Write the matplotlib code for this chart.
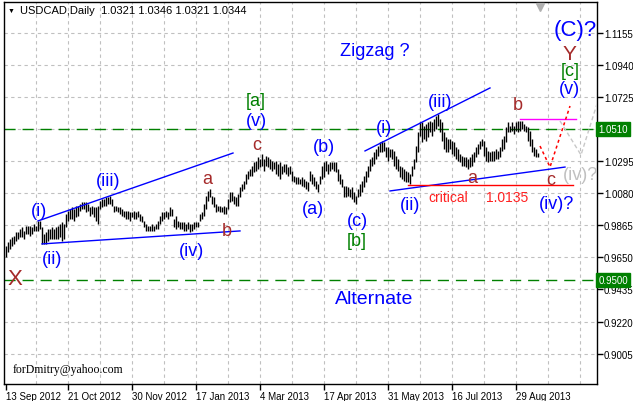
import numpy as np
import matplotlib
matplotlib.use("Agg")
import matplotlib.pyplot as plt

plt.rcParams['font.family'] = ['Liberation Sans', 'DejaVu Sans']

# daily bars USDCAD (high / low)
highs = [
    0.9726, 0.9753, 0.9773, 0.9786, 0.9793, 0.9820, 0.9820, 0.9840, 0.9853, 0.9827,
    0.9860, 0.9860, 0.9860, 0.9853, 0.9874, 0.9860, 0.9894, 0.9894, 0.9853, 0.9807,
    0.9820, 0.9840, 0.9840, 0.9853, 0.9840, 0.9853, 0.9860, 0.9874, 0.9887, 0.9874,
    0.9941, 0.9961, 0.9974, 0.9987, 0.9974, 0.9994, 0.9994, 1.0008, 1.0021, 1.0021,
    1.0021, 1.0008, 0.9987, 0.9994, 0.9987, 0.9987, 0.9994, 1.0028, 1.0041, 1.0041,
    1.0054, 1.0054, 1.0061, 1.0041, 0.9994, 0.9994, 0.9987, 0.9987, 0.9974, 0.9961,
    0.9961, 0.9961, 0.9954, 0.9954, 0.9961, 0.9954, 0.9961, 0.9941, 0.9927, 0.9894,
    0.9874, 0.9860, 0.9860, 0.9874, 0.9860, 0.9874, 0.9894, 0.9927, 0.9954, 0.9954,
    0.9961, 0.9954, 0.9987, 0.9974, 0.9907, 0.9927, 0.9894, 0.9887, 0.9887, 0.9887,
    0.9874, 0.9887, 0.9874, 0.9874, 0.9887, 0.9887, 0.9887, 0.9941, 0.9954, 1.0008,
    1.0061, 1.0095, 1.0108, 1.0061, 1.0054, 1.0008, 0.9994, 0.9994, 0.9987, 0.9994,
    0.9987, 1.0041, 1.0088, 1.0088, 1.0061, 1.0054, 1.0075, 1.0121, 1.0142, 1.0162,
    1.0209, 1.0229, 1.0242, 1.0262, 1.0289, 1.0296, 1.0322, 1.0309, 1.0343, 1.0309,
    1.0329, 1.0322, 1.0309, 1.0296, 1.0289, 1.0296, 1.0276, 1.0289, 1.0262, 1.0276,
    1.0276, 1.0255, 1.0262, 1.0229, 1.0195, 1.0188, 1.0188, 1.0175, 1.0188, 1.0175,
    1.0162, 1.0155, 1.0229, 1.0209, 1.0188, 1.0162, 1.0142, 1.0195, 1.0262, 1.0289,
    1.0296, 1.0276, 1.0289, 1.0289, 1.0289, 1.0289, 1.0242, 1.0209, 1.0175, 1.0128,
    1.0128, 1.0121, 1.0108, 1.0121, 1.0088, 1.0061, 1.0108, 1.0142, 1.0162, 1.0195,
    1.0229, 1.0262, 1.0309, 1.0322, 1.0356, 1.0376, 1.0396, 1.0423, 1.0430, 1.0423,
    1.0389, 1.0389, 1.0376, 1.0376, 1.0363, 1.0329, 1.0309, 1.0262, 1.0255, 1.0242,
    1.0229, 1.0222, 1.0209, 1.0262, 1.0309, 1.0396, 1.0490, 1.0557, 1.0557, 1.0530,
    1.0544, 1.0557, 1.0564, 1.0557, 1.0577, 1.0597, 1.0611, 1.0577, 1.0557, 1.0490,
    1.0456, 1.0443, 1.0443, 1.0430, 1.0423, 1.0389, 1.0376, 1.0343, 1.0329, 1.0322,
    1.0322, 1.0309, 1.0322, 1.0343, 1.0356, 1.0389, 1.0410, 1.0430, 1.0443, 1.0430,
    1.0389, 1.0363, 1.0356, 1.0363, 1.0363, 1.0376, 1.0363, 1.0389, 1.0443, 1.0463,
    1.0523, 1.0557, 1.0530, 1.0557, 1.0530, 1.0557, 1.0564, 1.0564, 1.0564, 1.0544,
    1.0530, 1.0523, 1.0497, 1.0443, 1.0389, 1.0376, 1.0346]
lows = [
    0.9652, 0.9686, 0.9706, 0.9726, 0.9740, 0.9760, 0.9773, 0.9786, 0.9786, 0.9773,
    0.9807, 0.9807, 0.9793, 0.9807, 0.9827, 0.9827, 0.9827, 0.9840, 0.9740, 0.9740,
    0.9740, 0.9760, 0.9773, 0.9773, 0.9773, 0.9773, 0.9773, 0.9786, 0.9760, 0.9773,
    0.9853, 0.9894, 0.9907, 0.9907, 0.9894, 0.9920, 0.9927, 0.9961, 0.9974, 0.9974,
    0.9954, 0.9961, 0.9927, 0.9941, 0.9920, 0.9894, 0.9874, 0.9974, 0.9987, 0.9994,
    0.9994, 1.0008, 1.0008, 0.9994, 0.9954, 0.9961, 0.9954, 0.9941, 0.9927, 0.9920,
    0.9907, 0.9907, 0.9894, 0.9920, 0.9907, 0.9907, 0.9920, 0.9894, 0.9887, 0.9853,
    0.9827, 0.9827, 0.9827, 0.9827, 0.9827, 0.9840, 0.9840, 0.9874, 0.9894, 0.9907,
    0.9920, 0.9907, 0.9927, 0.9927, 0.9853, 0.9840, 0.9853, 0.9840, 0.9840, 0.9827,
    0.9827, 0.9840, 0.9820, 0.9827, 0.9840, 0.9853, 0.9853, 0.9894, 0.9907, 0.9927,
    0.9974, 1.0028, 1.0054, 1.0008, 0.9987, 0.9954, 0.9961, 0.9954, 0.9954, 0.9941,
    0.9941, 0.9974, 1.0021, 1.0028, 1.0008, 0.9994, 0.9994, 1.0054, 1.0095, 1.0108,
    1.0142, 1.0175, 1.0195, 1.0195, 1.0222, 1.0229, 1.0242, 1.0255, 1.0262, 1.0229,
    1.0262, 1.0255, 1.0242, 1.0229, 1.0242, 1.0209, 1.0195, 1.0175, 1.0209, 1.0222,
    1.0209, 1.0195, 1.0209, 1.0162, 1.0155, 1.0142, 1.0142, 1.0142, 1.0128, 1.0121,
    1.0108, 1.0095, 1.0162, 1.0142, 1.0128, 1.0108, 1.0088, 1.0142, 1.0175, 1.0188,
    1.0229, 1.0209, 1.0229, 1.0242, 1.0229, 1.0222, 1.0162, 1.0142, 1.0121, 1.0054,
    1.0054, 1.0061, 1.0054, 1.0041, 1.0021, 1.0008, 1.0054, 1.0061, 1.0088, 1.0121,
    1.0155, 1.0188, 1.0229, 1.0262, 1.0276, 1.0309, 1.0329, 1.0356, 1.0356, 1.0363,
    1.0322, 1.0296, 1.0322, 1.0309, 1.0262, 1.0242, 1.0229, 1.0188, 1.0175, 1.0162,
    1.0155, 1.0155, 1.0142, 1.0195, 1.0242, 1.0289, 1.0356, 1.0463, 1.0423, 1.0443,
    1.0430, 1.0456, 1.0490, 1.0463, 1.0497, 1.0510, 1.0530, 1.0490, 1.0430, 1.0376,
    1.0356, 1.0356, 1.0376, 1.0343, 1.0329, 1.0309, 1.0296, 1.0289, 1.0262, 1.0262,
    1.0255, 1.0242, 1.0255, 1.0262, 1.0289, 1.0322, 1.0343, 1.0376, 1.0396, 1.0329,
    1.0296, 1.0289, 1.0296, 1.0296, 1.0296, 1.0309, 1.0309, 1.0322, 1.0363, 1.0376,
    1.0423, 1.0490, 1.0490, 1.0497, 1.0477, 1.0497, 1.0490, 1.0497, 1.0510, 1.0497,
    1.0490, 1.0430, 1.0396, 1.0356, 1.0329, 1.0322, 1.0321]

date_labels = ['13 Sep 2012', '21 Oct 2012', '30 Nov 2012', '17 Jan 2013', '4 Mar 2013',
               '17 Apr 2013', '31 May 2013', '16 Jul 2013', '29 Aug 2013']
date_bars = [0, 31, 63, 95, 127, 159, 191, 223, 255]
price_ticks = [0.9005, 0.9220, 0.9435, 0.9650, 0.9865, 1.0080, 1.0295, 1.0510, 1.0725, 1.0940, 1.1155]
levels = [1.0510, 0.9500]
critical = 1.0135

BLUE = '#0000ff'
BROWN = '#a52a2a'
GREEN = '#008000'
RED = '#ff2020'

fig = plt.figure(figsize=(6.33, 4.02), dpi=100)
ax = fig.add_axes([4 / 633, 17 / 402, 593 / 633, 382 / 402])
ax.set_xlim(-1, 295.5)
ax.set_ylim(0.88015, 1.13609)

# grid
for p in price_ticks:
    ax.axhline(p, color='#c0c0c0', lw=0.8, ls=(0, (3, 3)), zorder=0)
for b in range(15, 296, 16):
    ax.axvline(b, color='#c0c0c0', lw=0.8, ls=(0, (3, 3)), zorder=0)

for lv in levels:
    ax.axhline(lv, color=GREEN, lw=1, ls=(0, (8, 5)), zorder=1)

idx = np.arange(len(highs))
ax.vlines(idx, lows, highs, color='black', lw=1.0, zorder=3)

# trend lines
ax.plot([16, 113.5], [0.9894, 1.0349], color=BLUE, lw=1, zorder=4)
ax.plot([18, 117], [0.9740, 0.9827], color=BLUE, lw=1, zorder=4)
ax.plot([179.5, 242], [1.0363, 1.0785], color=BLUE, lw=1, zorder=4)
ax.plot([192, 279.5], [1.0095, 1.0255], color=BLUE, lw=1, zorder=4)
ax.plot([201, 283.5], [critical, critical], color='red', lw=1, zorder=4)
ax.plot([257, 285], [1.0577, 1.0577], color='#ff00ff', lw=1, zorder=4)
ax.plot([267, 272, 282], [1.0396, 1.0255, 1.0664], color='red', lw=1.1, ls=(0, (2, 2)), zorder=4)
ax.plot([277, 287.5, 295.5], [1.0564, 1.0336, 1.0678], color='#c8c8c8', lw=1, ls=(0, (3, 2)), zorder=4)
ax.plot([267], [1.1325], marker='v', color='#b0b0b0', ms=6, zorder=5)

# wave labels
def lab(x, y, s, c, fs=13):
    ax.text(x, y, s, color=c, fontsize=fs, ha='center', va='center', zorder=6)

lab(184.5, 1.1033, 'Zigzag ?', BLUE, 13)
lab(184, 0.9371, 'Alternate', BLUE, 14)
lab(284.5, 1.1178, '(C)?', BLUE, 16)
lab(281.5, 1.1013, 'Y', BROWN, 15)
lab(282, 1.0899, '[c]', GREEN)
lab(281.5, 1.0778, '(v)', BLUE)
lab(125, 1.0698, '[a]', GREEN)
lab(125, 1.0570, '(v)', BLUE)
lab(125.5, 1.0403, 'c', BROWN)
lab(159, 1.0396, '(b)', BLUE)
lab(189, 1.0523, '(i)', BLUE)
lab(217, 1.0691, '(iii)', BLUE)
lab(233, 1.0182, 'a', BROWN)
lab(256, 1.0671, 'b', BROWN)
lab(272.5, 1.0169, 'c', BROWN)
lab(287.5, 1.0208, '(iv)?', '#c0c0c0')
lab(275.5, 1.0008, '(iv)?', BLUE)
lab(202, 1.0001, '(ii)', BLUE)
lab(175.5, 0.9900, '(c)', BLUE)
lab(175.5, 0.9766, '[b]', GREEN)
lab(153.5, 0.9974, '(a)', BLUE)
lab(92.5, 0.9693, '(iv)', BLUE)
lab(110.5, 0.9827, 'b', BROWN)
lab(100.5, 1.0175, 'a', BROWN)
lab(16.5, 0.9967, '(i)', BLUE)
lab(51, 1.0162, '(iii)', BLUE)
lab(23, 0.9639, '(ii)', BLUE)
lab(4.5, 0.9505, 'X', BROWN, 16)
ax.text(221, 1.0054, 'critical', color=RED, fontsize=10, ha='center', va='center')
ax.text(250.5, 1.0054, '1.0135', color=RED, fontsize=10, ha='center', va='center')

ax.text(0.015, 0.039, 'forDmitry@yahoo.com', transform=ax.transAxes, fontsize=8.5,
        family=['Liberation Serif', 'DejaVu Serif'], ha='left', va='center')
fig.text(0.0316, 0.9726, 'USDCAD,Daily  1.0321 1.0346 1.0321 1.0344', fontsize=8,
         ha='left', va='center')
fig.text(0.0175, 0.9726, '\u25bc', fontsize=5, ha='center', va='center')

# axes styling
for s in ax.spines.values():
    s.set_color('black')
    s.set_linewidth(1)
ax.yaxis.tick_right()
ax.set_yticks(price_ticks)
# the 1.0510 value is shown by the green level box instead
ax.set_yticklabels(['' if p in levels else '%.4f' % p for p in price_ticks])
ax.set_xticks(date_bars)
ax.set_xticklabels(date_labels)
for t in ax.get_xticklabels():
    t.set_ha('left')
ax.tick_params(axis='both', labelsize=7, length=4, width=1, direction='out', pad=1)
ax.tick_params(axis='y', pad=1)

for lv in levels:
    ax.text(1.002, lv, '%.4f' % lv, transform=ax.get_yaxis_transform(), fontsize=7,
            color='white', ha='left', va='center', zorder=10, clip_on=False,
            bbox=dict(boxstyle='square,pad=0.2', fc=GREEN, ec=GREEN))

fig.savefig('out.png', dpi=100, facecolor='white')
